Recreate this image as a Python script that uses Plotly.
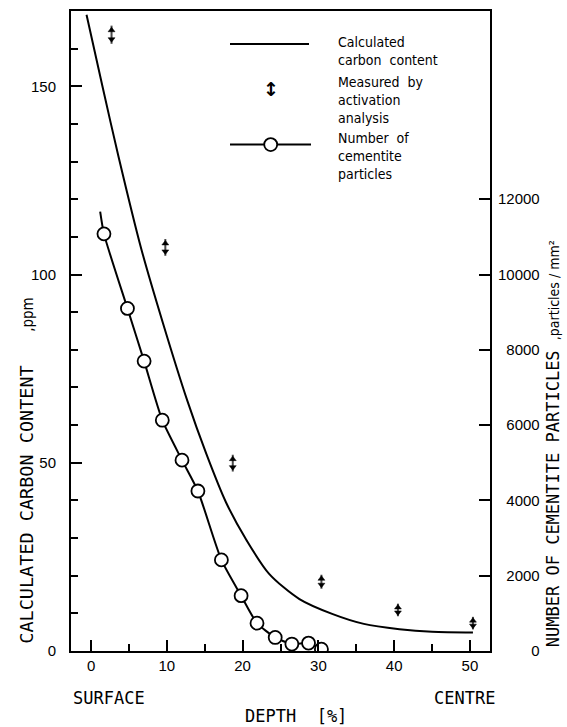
import plotly.graph_objects as go

# Calculated carbon content (ppm) versus depth (%)
calc_depth = [-0.6, 1.5, 3.6, 6.6, 9.5, 12.7, 15.2, 17.8, 20.5, 23.5, 27.5, 31.9, 36.0, 40.7, 45.0, 50.4]
calc_ppm = [169, 150, 131.5, 107, 87, 66.5, 52.4, 39.5, 29.5, 20.5, 13.8, 9.8, 7.2, 5.8, 5.1, 4.9]

# Carbon measured by activation analysis (ppm)
meas_depth = [2.7, 9.8, 18.7, 30.4, 40.5, 50.4]
meas_ppm = [163.7, 107.2, 49.9, 18.4, 10.9, 7.4]

# Counted cementite particles (particles / mm^2)
part_depth = [1.7, 4.8, 7.0, 9.4, 12.0, 14.1, 17.2, 19.8, 21.9, 24.3, 26.5, 28.7, 30.4]
part_count = [11080, 9100, 7700, 6130, 5070, 4250, 2420, 1470, 740, 360, 185, 210, 50]

# Smooth curve drawn through the particle counts
fit_depth = [1.2, 1.7, 4.8, 7.0, 9.4, 12.0, 14.1, 17.2, 19.8, 21.9, 24.3, 26.5, 28.7, 30.4]
fit_count = [11670, 11080, 9100, 7700, 6130, 5070, 4250, 2420, 1470, 740, 360, 185, 210, 50]

x_ticks = [0, 10, 20, 30, 40, 50]
x_minor = [5, 15, 25, 35, 45]
ppm_ticks = [0, 50, 100, 150]
ppm_minor = [10, 20, 30, 40, 60, 70, 80, 90, 110, 120, 130, 140, 160]
count_ticks = [0, 2000, 4000, 6000, 8000, 10000, 12000]

# drawn height (px) of each double-headed measurement arrow
arrow_len = [15, 14, 14, 12, 11, 11]
HEAD = 6  # arrowhead marker size

W, H = 567, 727
PL, PR, PT, PB = 71, 490, 9.3, 651.3  # plot box edges in pixels

def px(xp):
    return (xp - PL) / (PR - PL)

def py(yp):
    return (PB - yp) / (PB - PT)

TICK_FONT = dict(family="Liberation Sans, Arial, sans-serif", size=15, color="black")
COND = "DejaVu Sans Condensed, DejaVu Sans, sans-serif"
MONO = "DejaVu Sans Mono, monospace"

fig = go.Figure()

fig.add_trace(go.Scatter(
    x=calc_depth, y=calc_ppm, mode="lines",
    line=dict(color="black", width=2, shape="spline", smoothing=0.8),
    hoverinfo="skip"))

# measurement arrows: shaft plus an arrowhead at each end
fig.add_trace(go.Scatter(
    x=meas_depth, y=meas_ppm, mode="markers",
    marker=dict(symbol="line-ns", size=[a - 2 for a in arrow_len],
                line=dict(color="black", width=2)),
    hoverinfo="skip"))
for ang in (0, 180):
    # triangle-down rotated by `ang`; standoff pushes each head out along the shaft
    fig.add_trace(go.Scatter(
        x=meas_depth, y=meas_ppm, mode="markers",
        marker=dict(symbol="triangle-down", size=HEAD, color="black", angle=ang,
                    standoff=[a / 2 - HEAD / 2 for a in arrow_len],
                    line=dict(color="black", width=0.5)),
        hoverinfo="skip"))

fig.add_trace(go.Scatter(
    x=fit_depth, y=fit_count, mode="lines", yaxis="y2",
    line=dict(color="black", width=2, shape="spline", smoothing=0.6),
    hoverinfo="skip"))

fig.add_trace(go.Scatter(
    x=part_depth, y=part_count, mode="markers", yaxis="y2",
    marker=dict(symbol="circle", size=13, color="white",
                line=dict(color="black", width=1.8)),
    hoverinfo="skip"))

annotations = []
shapes = []

def note(text, xp, yp, size, xanchor="left", yanchor="middle", angle=0, family=COND):
    annotations.append(dict(
        text=text, x=px(xp), y=py(yp), xref="paper", yref="paper",
        xanchor=xanchor, yanchor=yanchor, textangle=angle, showarrow=False,
        align="left", font=dict(family=family, size=size, color="black")))

# legend
shapes.append(dict(type="line", xref="paper", yref="paper",
                   x0=px(230), x1=px(309), y0=py(42.3), y1=py(42.3),
                   line=dict(color="black", width=2)))
annotations.append(dict(text="<b>↕</b>", x=px(270.7), y=py(87.3), xref="paper", yref="paper",
                        showarrow=False, xanchor="center", yanchor="middle",
                        font=dict(family="DejaVu Sans", size=19, color="black")))
shapes.append(dict(type="line", xref="paper", yref="paper",
                   x0=px(230), x1=px(311), y0=py(143.3), y1=py(143.3),
                   line=dict(color="black", width=2)))
shapes.append(dict(type="circle", xref="paper", yref="paper",
                   x0=px(270.7 - 6.5), x1=px(270.7 + 6.5),
                   y0=py(143.3 + 6.5), y1=py(143.3 - 6.5),
                   fillcolor="white", line=dict(color="black", width=1.8)))
note("Calculated<br>carbon\u00a0\u00a0content", 336, 49.5, 14)
note("Measured\u00a0\u00a0by<br>activation<br>analysis", 336, 98.5, 14)
note("Number\u00a0\u00a0of<br>cementite<br>particles", 336, 155.0, 14)

# axis titles and side labels
note("SURFACE", 71, 698, 17, family=MONO)
note("CENTRE", 497, 698, 17, xanchor="right", family=MONO)
note("DEPTH\u00a0\u00a0[%]", 296, 717, 17, xanchor="center", family=MONO)
note("CALCULATED\u00a0CARBON\u00a0CONTENT\u00a0\u00a0\u00a0"
     "<span style='font-family:DejaVu Sans Condensed;font-size:15px'>,ppm</span>",
     27, 646, 18.5, xanchor="center", yanchor="bottom", angle=-90, family=MONO)
note("NUMBER\u00a0OF\u00a0CEMENTITE\u00a0PARTICLES\u00a0"
     "<span style='font-family:DejaVu Sans Condensed;font-size:14px'>,particles\u00a0/\u00a0mm²</span>",
     553, 650, 17, xanchor="center", yanchor="bottom", angle=-90, family=MONO)

axis_common = dict(showline=True, linewidth=2, linecolor="black", showgrid=False,
                   zeroline=False, ticks="inside", tickcolor="black", tickwidth=1.5,
                   ticklen=11, tickfont=TICK_FONT)

fig.update_layout(
    width=W, height=H,
    margin=dict(l=PL, r=W - PR, t=PT, b=H - PB),
    paper_bgcolor="white", plot_bgcolor="white",
    showlegend=False,
    xaxis=dict(range=[-2.65, 52.65], tickvals=x_ticks, mirror=True,
               minor=dict(tickvals=x_minor, ticks="inside", ticklen=7,
                          tickwidth=1.5, tickcolor="black"),
               **axis_common),
    yaxis=dict(range=[0, 170], tickvals=ppm_ticks, ticklabelstandoff=10,
               minor=dict(tickvals=ppm_minor, ticks="inside", ticklen=7,
                          tickwidth=1.5, tickcolor="black"),
               **axis_common),
    yaxis2=dict(range=[0, 17000], tickvals=count_ticks, overlaying="y", side="right",
                ticktext=[str(v).rjust(5, "\u2007") for v in count_ticks],
                ticklabelstandoff=3,
                **axis_common),
    annotations=annotations,
    shapes=shapes,
)

fig.write_html("out.html")
